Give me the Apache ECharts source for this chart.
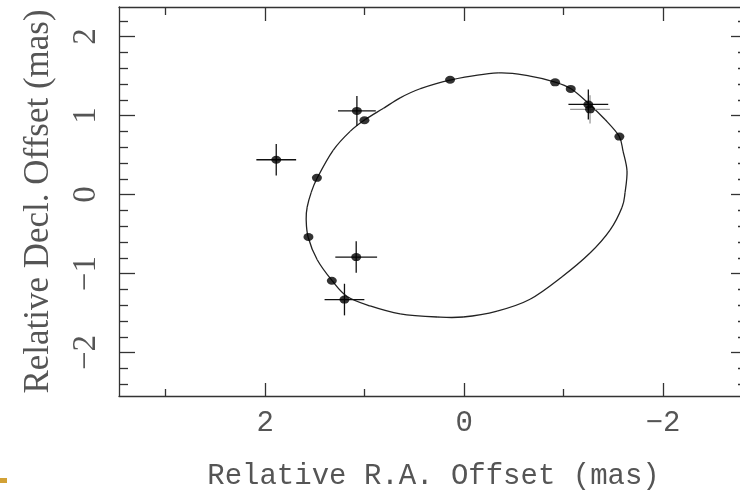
<!DOCTYPE html>
<html>
<head>
<meta charset="utf-8">
<script src="https://cdn.jsdelivr.net/npm/echarts@6/dist/echarts.min.js"></script>
<style>
  html, body { margin: 0; padding: 0; background: #fff; }
  #chart { width: 740px; height: 496px; }
</style>
</head>
<body>
<div id="chart"></div>
<script>
// orbit curve (RA, Dec in mas), closed loop
const orbitRA = [1.568, 1.588, 1.578, 1.538, 1.477, 1.317, 1.146, 0.995, 0.814, 0.643, 0.442, 0.141,
  -0.342, -0.663, -0.915, -1.075, -1.246, -1.417, -1.558, -1.598, -1.638, -1.618, -1.588, -1.467,
  -1.266, -0.985, -0.663, -0.332, 0.010, 0.271, 0.643, 0.945, 1.176, 1.327, 1.477];
const orbitDec = [-0.54, -0.31, -0.16, 0.025, 0.21, 0.56, 0.80, 0.95, 1.09, 1.225, 1.34, 1.45,
  1.54, 1.50, 1.425, 1.34, 1.16, 0.95, 0.74, 0.55, 0.30, 0.025, -0.16, -0.45,
  -0.74, -1.04, -1.325, -1.475, -1.55, -1.55, -1.51, -1.41, -1.29, -1.09, -0.825];

// observed positions
const obsRA = [1.889, 1.078, 1.002, 1.480, 1.565, 1.085, 1.330, 1.203, 0.141, -0.915, -1.072, -1.249, -1.266, -1.561];
const obsDec = [0.441, 1.059, 0.941, 0.2125, -0.5375, -0.791, -1.091, -1.329, 1.454, 1.421, 1.3375, 1.141, 1.079, 0.734];

// error crosses (black)
const errRA = [1.889, 1.078, 1.085, 1.203, -1.249];
const errDec = [0.441, 1.059, -0.791, -1.329, 1.141];
const errX = [0.20, 0.19, 0.21, 0.20, 0.20];
const errY = [0.20, 0.19, 0.20, 0.20, 0.19];
// error cross (grey)
const errRA2 = [-1.266];
const errDec2 = [1.079];
const errX2 = [0.20];
const errY2 = [0.18];

// ticks
const xMajor = [-2, 0, 2];
const xMinor = [-1, 1, 3];
const yMajor = [-2, -1, 0, 1, 2];
const yMinor = [-2.4, -2.2, -1.8, -1.6, -1.4, -1.2, -0.8, -0.6, -0.4, -0.2,
  0.2, 0.4, 0.6, 0.8, 1.2, 1.4, 1.6, 1.8, 2.2];

// the frame's right edge lies just past the picture
const X_MIN = -2.774, X_MAX = 3.47;
const Y_MIN = -2.55, Y_MAX = 2.375;

const lineCol = '#333';
const textCol = '#555';
const minus = v => (v < 0 ? '\u2212' + Math.abs(v) : String(v));

function xAx(pos, ticks, len, showLine, showLabel) {
  return {
    type: 'value', position: pos, min: X_MIN, max: X_MAX, inverse: true,
    axisLine: { show: showLine, onZero: false, lineStyle: { color: lineCol, width: 1.3 } },
    axisTick: { show: true, inside: true, length: len, customValues: ticks, lineStyle: { color: lineCol, width: 1.3 } },
    axisLabel: showLabel ? {
      show: true, customValues: ticks, margin: 13, formatter: minus,
      fontFamily: 'Liberation Mono', fontSize: 29, color: textCol
    } : { show: false },
    splitLine: { show: false }
  };
}
function yAx(pos, ticks, len, showLine, showLabel) {
  return {
    type: 'value', position: pos, min: Y_MIN, max: Y_MAX,
    axisLine: { show: showLine, onZero: false, lineStyle: { color: lineCol, width: 1.3 } },
    axisTick: { show: true, inside: true, length: len, customValues: ticks, lineStyle: { color: lineCol, width: 1.3 } },
    axisLabel: showLabel ? {
      show: true, customValues: ticks, margin: 16, rotate: 90, formatter: minus,
      fontFamily: 'Liberation Serif', fontSize: 33, color: textCol
    } : { show: false },
    splitLine: { show: false }
  };
}

const xAxes = [
  xAx('bottom', xMajor, 13, true, true),
  xAx('bottom', xMinor, 7, false, false),
  xAx('top', xMajor, 14, true, false),
  xAx('top', xMinor, 8, false, false)
];
xAxes[0].name = 'Relative R.A. Offset (mas)';
xAxes[0].nameLocation = 'middle';
xAxes[0].nameGap = 66;
xAxes[0].nameTextStyle = { fontFamily: 'Liberation Mono', fontSize: 29, color: textCol };
// keep the name centred on the full frame (which runs past the right edge)
xAxes[0].nameTextStyle.padding = [0, 0, 0, 8];

const yAxes = [
  yAx('left', yMajor, 16, true, true),
  yAx('left', yMinor, 9, false, false),
  yAx('right', yMajor, 9, false, false),
  yAx('right', yMinor, 2, false, false)
];
yAxes[0].name = 'Relative Decl. Offset (mas)';
yAxes[0].nameLocation = 'middle';
yAxes[0].nameGap = 63;
yAxes[0].nameTextStyle = { fontFamily: 'Liberation Serif', fontSize: 35, color: textCol };

// closed Catmull-Rom segment between orbit point i and i+1, in pixel space
function orbitSegment(params, api) {
  const n = orbitRA.length;
  const i = params.dataIndex;
  const P = k => api.coord([orbitRA[(k + n) % n], orbitDec[(k + n) % n]]);
  const p0 = P(i - 1), p1 = P(i), p2 = P(i + 1), p3 = P(i + 2);
  const t = 1 / 6;
  return {
    type: 'bezierCurve',
    shape: {
      x1: p1[0], y1: p1[1], x2: p2[0], y2: p2[1],
      cpx1: p1[0] + (p2[0] - p0[0]) * t, cpy1: p1[1] + (p2[1] - p0[1]) * t,
      cpx2: p2[0] - (p3[0] - p1[0]) * t, cpy2: p2[1] - (p3[1] - p1[1]) * t
    },
    style: { stroke: '#222', lineWidth: 1.3, fill: null }
  };
}

function crossRenderer(color) {
  return function (params, api) {
    const x = api.value(0), y = api.value(1), ex = api.value(2), ey = api.value(3);
    const l = api.coord([x + ex, y]), r = api.coord([x - ex, y]);
    const t = api.coord([x, y + ey]), b = api.coord([x, y - ey]);
    const st = { stroke: color, lineWidth: 1.3 };
    return {
      type: 'group',
      children: [
        { type: 'line', shape: { x1: l[0], y1: l[1], x2: r[0], y2: r[1] }, style: st },
        { type: 'line', shape: { x1: t[0], y1: t[1], x2: b[0], y2: b[1] }, style: st }
      ]
    };
  };
}

const chart = echarts.init(document.getElementById('chart'), null, { renderer: 'canvas' });
chart.setOption({
  animation: false,
  backgroundColor: '#fff',
  grid: { left: 119, top: 7, right: 0, height: 394, containLabel: false },
  xAxis: xAxes,
  yAxis: yAxes,
  graphic: [
    { type: 'rect', left: 0, top: 478, shape: { width: 7, height: 5 }, style: { fill: '#d2a135' } }
  ],
  series: [
    {
      type: 'custom', renderItem: orbitSegment,
      data: orbitRA.map((v, i) => [v, orbitDec[i]]), z: 2
    },
    {
      type: 'custom', renderItem: crossRenderer('#999'),
      data: errRA2.map((v, i) => [v, errDec2[i], errX2[i], errY2[i]]), z: 3
    },
    {
      type: 'custom', renderItem: crossRenderer('#111'),
      data: errRA.map((v, i) => [v, errDec[i], errX[i], errY[i]]), z: 4
    },
    {
      type: 'scatter', symbol: 'circle', symbolSize: [10, 8],
      data: obsRA.map((v, i) => [v, obsDec[i]]),
      itemStyle: { color: '#000' }, z: 5
    }
  ]
});
</script>
</body>
</html>
